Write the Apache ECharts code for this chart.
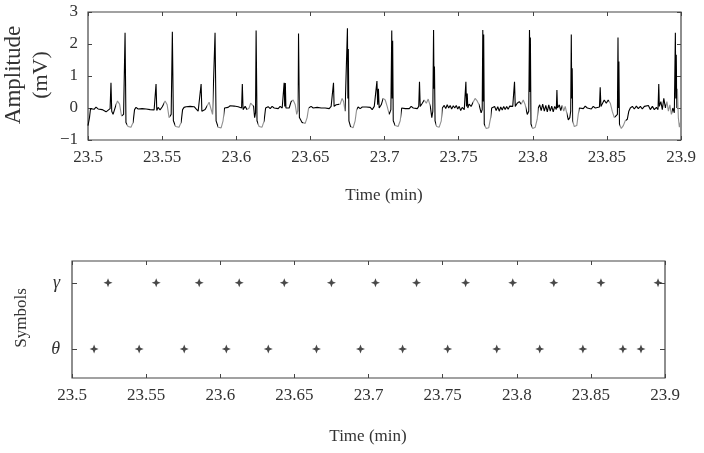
<!DOCTYPE html>
<html><head><meta charset="utf-8">
<script src="https://cdn.jsdelivr.net/npm/echarts@6/dist/echarts.min.js"></script>
<style>html,body{margin:0;padding:0;background:#fff}#c{width:704px;height:453px}</style>
</head><body><div id="c"></div>
<script>
// ---- data ----
const timeRange = [23.5, 23.9];       // minutes
const timeStep = 0.05;
const ampTicks = [-1, 0, 1, 2, 3];    // mV
const symbolNames = ['θ', 'γ'];       // row 0, row 1

// detected symbol times (min)
const gammaTimes = [23.5243, 23.5568, 23.5858, 23.6128, 23.6432, 23.6750, 23.7047,
  23.7324, 23.7655, 23.7973, 23.8250, 23.8568, 23.8953];
const thetaTimes = [23.5149, 23.5453, 23.5757, 23.6041, 23.6324, 23.6649, 23.6946,
  23.7230, 23.7534, 23.7865, 23.8155, 23.8446, 23.8716, 23.8838];

// ECG trace [time (min), amplitude (mV)]
const ecgTrace = [
[23.5000,-0.55],[23.5010,-0.3],[23.5017,-0.02],
[23.5027,0.02],[23.5041,-0.04],[23.5054,0.03],[23.5068,-0.03],[23.5081,0.02],[23.5095,-0.05],[23.5108,0.0],[23.5122,-0.12],[23.5135,-0.06],[23.5149,-0.02],
[23.5155,0.79],[23.5160,-0.1],[23.5169,-0.2],[23.5179,-0.05],
[23.5189,0.1],[23.5199,0.22],[23.5213,0.12],[23.5226,-0.25],[23.5240,-0.2],
[23.5250,2.35],[23.5256,-0.45],
[23.5270,-0.58],[23.5290,-0.6],[23.5304,-0.45],[23.5314,-0.05],[23.5324,0.02],
[23.5338,-0.03],[23.5351,0.03],[23.5365,-0.02],[23.5378,0.04],[23.5392,-0.03],[23.5405,0.02],[23.5419,-0.05],[23.5432,0.0],[23.5446,-0.06],[23.5452,-0.02],
[23.5459,0.75],[23.5464,-0.08],
[23.5473,0.02],[23.5486,-0.06],[23.5500,0.03],
[23.5510,0.12],[23.5520,0.22],[23.5534,0.1],[23.5547,-0.3],[23.5561,-0.2],
[23.5569,2.38],[23.5576,-0.4],
[23.5591,-0.58],[23.5614,-0.6],[23.5628,-0.45],[23.5638,-0.05],[23.5648,0.02],
[23.5662,0.04],[23.5675,-0.02],[23.5689,0.05],[23.5702,0.0],[23.5716,0.04],[23.5729,-0.03],[23.5743,-0.1],[23.5756,-0.05],
[23.5763,0.75],[23.5768,-0.1],
[23.5776,-0.15],[23.5790,-0.05],[23.5803,0.0],
[23.5817,0.18],[23.5830,0.15],[23.5840,-0.2],[23.5851,-0.15],
[23.5857,2.35],[23.5864,-0.4],
[23.5878,-0.6],[23.5898,-0.62],[23.5911,-0.4],[23.5921,0.0],
[23.5932,0.06],[23.5945,0.02],[23.5959,0.07],[23.5972,0.03],[23.5986,0.06],[23.5999,0.0],[23.6013,0.04],[23.6026,-0.02],[23.6036,0.0],
[23.6041,0.75],[23.6046,-0.05],
[23.6060,0.05],[23.6073,-0.05],[23.6087,0.0],
[23.6097,0.15],[23.6107,0.2],[23.6117,0.05],[23.6124,-0.3],[23.6130,-0.15],
[23.6134,2.42],[23.6140,-0.4],
[23.6154,-0.58],[23.6174,-0.6],[23.6188,-0.4],[23.6198,0.0],
[23.6215,0.04],[23.6229,-0.02],[23.6242,0.05],[23.6256,0.0],[23.6269,0.04],[23.6283,-0.02],[23.6296,0.05],[23.6310,0.0],[23.6318,0.05],
[23.6323,0.79],[23.6327,0.05],[23.6331,0.78],[23.6335,0.0],
[23.6343,0.05],[23.6357,0.0],
[23.6370,0.2],[23.6384,0.25],[23.6398,0.1],[23.6408,-0.2],[23.6414,-0.1],
[23.6420,2.33],[23.6426,-0.3],
[23.6444,-0.45],[23.6465,-0.48],[23.6478,-0.3],[23.6488,0.0],
[23.6505,0.05],[23.6519,0.0],[23.6532,0.06],[23.6546,0.02],[23.6559,0.06],[23.6573,0.0],[23.6586,0.05],[23.6600,0.0],[23.6613,0.05],[23.6627,-0.02],[23.6640,0.05],[23.6650,0.08],
[23.6656,0.79],[23.6660,0.05],
[23.6674,0.1],[23.6687,0.05],[23.6701,0.12],
[23.6714,0.3],[23.6724,0.2],[23.6734,-0.1],[23.6745,-0.05],
[23.6750,2.49],[23.6753,0.3],[23.6756,1.84],[23.6760,-0.4],
[23.6771,-0.58],[23.6788,-0.62],[23.6802,-0.4],[23.6812,-0.05],
[23.6822,0.03],[23.6836,-0.02],[23.6850,0.03],[23.6863,-0.02],[23.6877,0.03],[23.6890,-0.03],[23.6904,0.02],[23.6917,-0.05],[23.6931,0.05],[23.6943,0.02],
[23.6949,0.84],[23.6954,0.1],[23.6959,0.6],[23.6964,0.0],
[23.6978,0.1],
[23.6991,0.3],[23.7005,0.25],[23.7018,0.05],[23.7032,-0.2],[23.7043,-0.05],
[23.7049,2.42],[23.7052,0.3],[23.7055,2.1],[23.7059,-0.4],
[23.7072,-0.55],[23.7092,-0.58],[23.7106,-0.4],[23.7116,0.0],
[23.7126,0.03],[23.7140,-0.02],[23.7153,0.04],[23.7167,-0.02],[23.7180,0.05],[23.7194,0.0],[23.7207,0.06],[23.7221,-0.02],[23.7231,0.05],
[23.7236,0.82],[23.7241,0.05],
[23.7255,0.15],
[23.7268,0.25],[23.7282,0.15],[23.7295,0.28],[23.7309,0.05],[23.7319,-0.3],[23.7326,-0.1],
[23.7331,2.44],[23.7334,0.6],[23.7337,1.3],[23.7341,-0.4],
[23.7352,-0.58],[23.7369,-0.6],[23.7383,-0.4],[23.7390,0.0],
[23.7403,0.08],[23.7413,-0.02],[23.7423,0.1],[23.7433,0.0],[23.7443,0.08],[23.7453,-0.03],[23.7464,0.07],[23.7474,0.0],[23.7484,0.08],[23.7494,-0.03],[23.7504,0.05],[23.7514,-0.08],[23.7524,0.02],[23.7538,-0.05],[23.7544,0.0],
[23.7549,0.82],[23.7553,0.05],[23.7558,0.45],[23.7562,0.0],
[23.7571,0.12],[23.7584,0.05],[23.7598,0.18],
[23.7611,0.3],[23.7625,0.22],[23.7638,0.1],[23.7652,-0.15],[23.7659,-0.05],
[23.7663,2.44],[23.7667,0.2],[23.7669,2.3],[23.7673,-0.5],
[23.7686,-0.64],[23.7703,-0.62],[23.7716,-0.3],[23.7723,0.0],
[23.7733,-0.05],[23.7743,0.05],[23.7753,-0.08],[23.7764,0.04],[23.7774,-0.1],[23.7784,0.03],[23.7794,-0.06],[23.7804,0.05],[23.7814,-0.05],[23.7824,0.05],[23.7834,-0.04],[23.7845,0.06],[23.7855,0.0],[23.7865,0.05],[23.7872,0.0],
[23.7877,0.82],[23.7882,0.05],
[23.7895,0.15],
[23.7909,0.2],[23.7922,0.12],[23.7936,0.25],[23.7949,0.1],[23.7963,-0.2],[23.7973,-0.1],
[23.7978,2.44],[23.7982,0.5],[23.7984,2.2],[23.7988,-0.5],
[23.8000,-0.64],[23.8017,-0.6],[23.8030,-0.35],[23.8037,0.0],
[23.8047,0.1],[23.8057,-0.08],[23.8067,0.12],[23.8078,-0.1],[23.8088,0.08],[23.8098,-0.12],[23.8108,0.1],[23.8118,-0.1],[23.8128,0.06],[23.8138,-0.12],[23.8148,0.05],[23.8159,-0.05],
[23.8163,0.56],[23.8167,0.0],
[23.8179,0.1],[23.8189,-0.08],[23.8199,0.08],[23.8209,-0.1],[23.8219,0.05],[23.8229,-0.15],[23.8240,-0.37],[23.8250,-0.3],[23.8256,-0.1],
[23.8260,2.3],[23.8263,0.3],[23.8266,1.24],[23.8270,-0.4],
[23.8280,-0.58],[23.8297,-0.55],[23.8307,-0.2],[23.8314,0.0],
[23.8327,0.05],[23.8341,-0.02],[23.8354,0.06],[23.8368,0.0],[23.8381,0.05],[23.8395,-0.03],[23.8408,0.05],[23.8422,0.0],[23.8435,0.05],[23.8450,0.03],
[23.8455,0.65],[23.8460,0.05],
[23.8469,0.1],
[23.8482,0.25],[23.8496,0.15],[23.8509,0.25],[23.8523,0.15],[23.8536,-0.1],[23.8550,-0.3],[23.8563,-0.35],[23.8571,-0.2],
[23.8575,2.2],[23.8578,0.0],[23.8581,1.45],[23.8585,-0.5],
[23.8597,-0.64],[23.8611,-0.55],[23.8624,-0.4],[23.8638,-0.35],[23.8648,-0.1],[23.8658,0.0],
[23.8672,0.05],[23.8685,-0.03],[23.8699,0.06],[23.8712,-0.02],[23.8726,0.05],[23.8739,-0.03],[23.8753,0.05],[23.8766,0.0],[23.8780,0.08],[23.8793,-0.05],[23.8807,0.05],[23.8820,-0.05],[23.8834,0.02],[23.8845,-0.05],
[23.8850,0.75],[23.8854,0.05],
[23.8864,0.2],[23.8874,-0.05],[23.8884,0.3],[23.8895,0.0],[23.8905,0.2],[23.8915,-0.1],[23.8925,0.1],[23.8935,-0.2],[23.8945,0.0],[23.8955,-0.15],
[23.8962,2.35],[23.8965,0.3],[23.8968,1.66],[23.8972,0.0],[23.8976,0.6],[23.8982,-0.3],
[23.8989,-0.6],[23.8996,-0.45],[23.9000,-0.69]
];

// ---- chart ----
const FONT = "'Liberation Serif','DejaVu Serif',serif";
const AX = '#444';
const TXT = '#333';
const STAR = 'path://M0,-5 L1.4,-1.4 L5,0 L1.4,1.4 L0,5 L-1.4,1.4 L-5,0 L-1.4,-1.4 Z';
const fmtTime = v => String(+v.toFixed(2));
const fmtAmp = v => v < 0 ? '\u2212' + Math.abs(v) : String(v);

// lighter shading of the waves around each beat (as in the printed trace)
const grayPieces = [];
gammaTimes.forEach(g => {
  grayPieces.push({ gte: g - 0.0055, lt: g - 0.0016, color: '#8f8f8f' });
  grayPieces.push({ gte: g + 0.0021, lt: g + 0.0062, color: '#8f8f8f' });
});

function xAx(grid, pos, labels) {
  return {
    type: 'value', gridIndex: grid, position: pos,
    min: timeRange[0], max: timeRange[1], interval: timeStep,
    axisLine: { show: false, onZero: false },
    axisTick: { show: true, inside: true, length: 4, lineStyle: { color: AX, width: 1 } },
    axisLabel: { show: labels, margin: 9, fontSize: 17, color: TXT, fontFamily: FONT, formatter: fmtTime },
    splitLine: { show: false }
  };
}
function yAx(grid, pos, extra) {
  return Object.assign({
    type: 'value', gridIndex: grid, position: pos,
    axisLine: { show: false, onZero: false }, splitLine: { show: false }
  }, extra);
}

const chart = echarts.init(document.getElementById('c'), null, { renderer: 'canvas' });
chart.setOption({
  animation: false,
  backgroundColor: '#fff',
  visualMap: {
    type: 'piecewise', show: false, seriesIndex: 0, dimension: 0,
    pieces: grayPieces, outOfRange: { color: '#000' }
  },
  grid: [
    { left: 88, right: 23, top: 12, height: 128, show: true, borderColor: AX, borderWidth: 1.2, backgroundColor: 'transparent' },
    { left: 72, right: 39, top: 261, height: 117, show: true, borderColor: AX, borderWidth: 1.2, backgroundColor: 'transparent' }
  ],
  xAxis: [ xAx(0, 'bottom', true), xAx(0, 'top', false), xAx(1, 'bottom', true), xAx(1, 'top', false) ],
  yAxis: [
    yAx(0, 'left', { min: ampTicks[0], max: ampTicks[ampTicks.length - 1], interval: 1,
      axisTick: { inside: true, length: 4, lineStyle: { color: AX } },
      axisLabel: { margin: 10, fontSize: 17, color: TXT, fontFamily: FONT, formatter: fmtAmp } }),
    yAx(0, 'right', { min: ampTicks[0], max: ampTicks[ampTicks.length - 1], interval: 1,
      axisTick: { inside: true, length: 4, lineStyle: { color: AX } }, axisLabel: { show: false } }),
    yAx(1, 'left', { min: -0.44, max: 1.33,
      axisTick: { inside: true, length: 5, customValues: [0, 1], lineStyle: { color: AX } },
      axisLabel: { margin: 12, fontSize: 18, fontStyle: 'italic', color: TXT, fontFamily: FONT,
        customValues: [0, 1], formatter: v => symbolNames[Math.round(v)] } }),
    yAx(1, 'right', { min: -0.44, max: 1.33,
      axisTick: { inside: true, length: 5, customValues: [0, 1], lineStyle: { color: AX } }, axisLabel: { show: false } })
  ],
  series: [
    { type: 'line', xAxisIndex: 0, yAxisIndex: 0, data: ecgTrace, showSymbol: false, symbol: 'none',
      lineStyle: { width: 1.1 }, clip: true },
    { type: 'scatter', xAxisIndex: 2, yAxisIndex: 2, data: gammaTimes.map(t => [t, 1]),
      symbol: STAR, symbolSize: 9, itemStyle: { color: '#1a1a1a' } },
    { type: 'scatter', xAxisIndex: 2, yAxisIndex: 2, data: thetaTimes.map(t => [t, 0]),
      symbol: STAR, symbolSize: 9, itemStyle: { color: '#1a1a1a' } }
  ],
  graphic: [
    { type: 'text', x: 14, y: 75, rotation: Math.PI / 2,
      style: { text: 'Amplitude', fontSize: 23, fontFamily: FONT, fill: TXT, textAlign: 'center', textVerticalAlign: 'middle', align: 'center', verticalAlign: 'middle' } },
    { type: 'text', x: 41, y: 75, rotation: Math.PI / 2,
      style: { text: '(mV)', fontSize: 22, fontFamily: FONT, fill: TXT, textAlign: 'center', textVerticalAlign: 'middle', align: 'center', verticalAlign: 'middle' } },
    { type: 'text', x: 384, y: 196,
      style: { text: 'Time (min)', fontSize: 17, fontFamily: FONT, fill: TXT, textAlign: 'center', textVerticalAlign: 'middle', align: 'center', verticalAlign: 'middle' } },
    { type: 'text', x: 22, y: 318, rotation: Math.PI / 2,
      style: { text: 'Symbols', fontSize: 17, fontFamily: FONT, fill: TXT, textAlign: 'center', textVerticalAlign: 'middle', align: 'center', verticalAlign: 'middle' } },
    { type: 'text', x: 368, y: 437,
      style: { text: 'Time (min)', fontSize: 17, fontFamily: FONT, fill: TXT, textAlign: 'center', textVerticalAlign: 'middle', align: 'center', verticalAlign: 'middle' } }
  ]
});
</script></body></html>
